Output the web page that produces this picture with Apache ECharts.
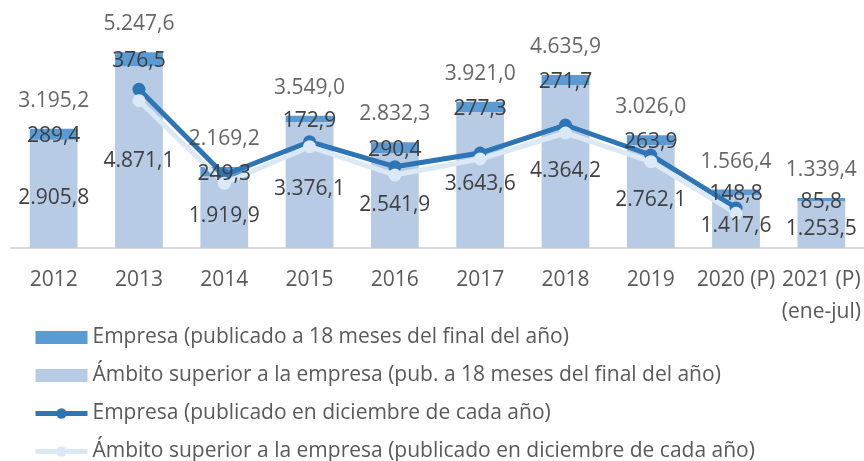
<!DOCTYPE html>
<html>
<head>
<meta charset="utf-8">
<script src="https://cdn.jsdelivr.net/npm/echarts@6/dist/echarts.min.js"></script>
<style>
  html, body { margin: 0; padding: 0; background: #fff; }
  #chart { width: 864px; height: 461px; }
</style>
</head>
<body>
<div id="chart"></div>
<script>
const years = ['2012', '2013', '2014', '2015', '2016', '2017', '2018', '2019', '2020 (P)', '2021 (P)\n(ene-jul)'];
// barras apiladas (publicado a 18 meses)
const ambitoBar = [2905.8, 4871.1, 1919.9, 3376.1, 2541.9, 3643.6, 4364.2, 2762.1, 1417.6, 1253.5];
const empresaBar = [289.4, 376.5, 249.3, 172.9, 290.4, 277.3, 271.7, 263.9, 148.8, 85.8];
const totales = [3195.2, 5247.6, 2169.2, 3549.0, 2832.3, 3921.0, 4635.9, 3026.0, 1566.4, 1339.4];
// lineas (publicado en diciembre)
const empresaLinea = [null, 4255, 1957, 2850, 2180, 2547, 3298, 2494, 1073, null];
const ambitoLinea = [null, 3950, 1735, 2716, 1957, 2386, 3084, 2314, 930, null];

const FONT = "'Open Sans', sans-serif";
const fmt = v => v.toLocaleString('de-DE', { minimumFractionDigits: 1, maximumFractionDigits: 1 });
const lbl = {
  show: true,
  color: '#404040',
  fontSize: 21,
  fontFamily: FONT,
  formatter: p => fmt(p.value)
};

const chart = echarts.init(document.getElementById('chart'));
chart.setOption({
  animation: false,
  grid: { left: 11, right: 0, top: 0, bottom: 213 },
  legend: {
    orient: 'vertical',
    left: 33,
    top: 327,
    height: 200,
    padding: 0,
    itemWidth: 52,
    itemHeight: 13,
    itemGap: 17,
    textStyle: { color: '#595959', fontSize: 21, fontFamily: FONT, lineHeight: 20 },
    data: [
      { name: 'Empresa (publicado a 18 meses del final del año)', icon: 'rect' },
      { name: 'Ámbito superior a la empresa (pub. a 18 meses del final del año)', icon: 'rect' },
      { name: 'Empresa (publicado en diciembre de cada año)', lineStyle: { width: 5 } },
      { name: 'Ámbito superior a la empresa (publicado en diciembre de cada año)', lineStyle: { width: 5 } }
    ]
  },
  xAxis: {
    type: 'category',
    data: years,
    axisLine: { lineStyle: { color: '#d9d9d9', width: 2 } },
    axisTick: { show: false },
    axisLabel: {
      interval: 0,
      color: '#595959',
      fontSize: 21,
      fontFamily: FONT,
      lineHeight: 32,
      margin: 16
    }
  },
  yAxis: { type: 'value', min: 0, max: 6650, show: false, splitLine: { show: false } },
  series: [
    {
      name: 'Ámbito superior a la empresa (pub. a 18 meses del final del año)',
      type: 'bar', stack: 'v', data: ambitoBar, barWidth: '56%', barGap: '-100%', z: 2,
      itemStyle: { color: '#b7cbe5' }
    },
    {
      name: 'Empresa (publicado a 18 meses del final del año)',
      type: 'bar', stack: 'v', data: empresaBar, barWidth: '56%', barGap: '-100%', z: 2,
      itemStyle: { color: '#5b9bd5' }
    },
    {
      name: 'Empresa (publicado en diciembre de cada año)',
      type: 'line', data: empresaLinea, z: 3,
      symbol: 'circle', symbolSize: 13,
      lineStyle: { color: '#2e75b6', width: 5 },
      itemStyle: { color: '#2e75b6' }
    },
    {
      name: 'Ámbito superior a la empresa (publicado en diciembre de cada año)',
      type: 'line', data: ambitoLinea, z: 3,
      symbol: 'circle', symbolSize: 13,
      lineStyle: { color: '#dbe8f5', width: 5 },
      itemStyle: { color: '#dbe8f5' }
    },
    // capa de etiquetas por encima de las lineas
    {
      name: 'lblA', type: 'bar', stack: 'o', data: ambitoBar, barWidth: '56%', barGap: '-100%', z: 5,
      itemStyle: { color: 'rgba(0,0,0,0)' },
      label: Object.assign({ position: 'inside', offset: [0, 4] }, lbl)
    },
    {
      name: 'lblE', type: 'bar', stack: 'o', data: empresaBar, barWidth: '56%', barGap: '-100%', z: 5,
      itemStyle: { color: 'rgba(0,0,0,0)' },
      label: Object.assign({ position: 'inside', offset: [0, 2] }, lbl)
    },
    {
      name: 'lblT', type: 'scatter', data: totales, z: 5,
      symbolSize: 1, itemStyle: { color: 'rgba(0,0,0,0)' },
      label: Object.assign({ position: 'top', distance: 17 }, lbl)
    }
  ]
});
</script>
</body>
</html>
